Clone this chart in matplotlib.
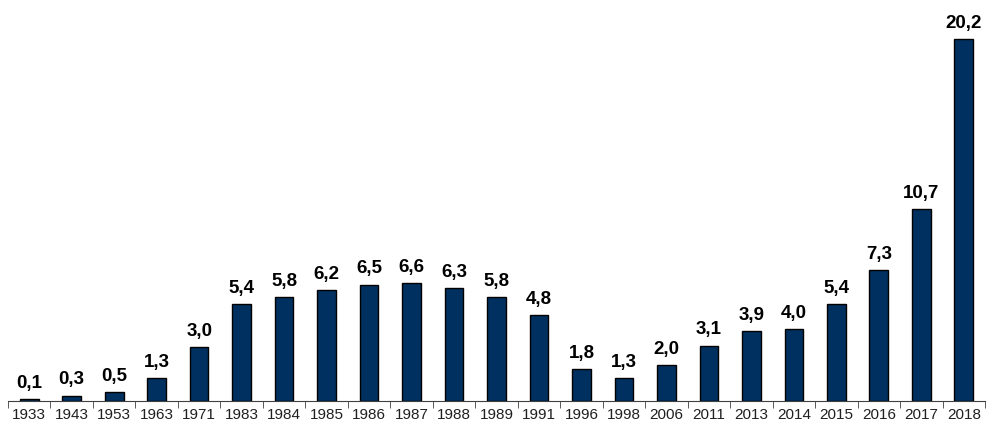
import matplotlib
matplotlib.use("Agg")
import matplotlib.pyplot as plt
import numpy as np

years = ['1933', '1943', '1953', '1963', '1971', '1983', '1984', '1985', '1986',
         '1987', '1988', '1989', '1991', '1996', '1998', '2006', '2011', '2013',
         '2014', '2015', '2016', '2017', '2018']
values = [0.1, 0.3, 0.5, 1.3, 3.0, 5.4, 5.8, 6.2, 6.5, 6.6, 6.3, 5.8, 4.8,
          1.8, 1.3, 2.0, 3.1, 3.9, 4.0, 5.4, 7.3, 10.7, 20.2]

plt.rcParams['font.family'] = ['Liberation Sans', 'DejaVu Sans']

fig = plt.figure(figsize=(9.92, 4.38), dpi=100)
ax = fig.add_axes([8 / 992, 1 - 401 / 438, 977 / 992, 401 / 438])

x = np.arange(len(years))
ax.bar(x, values, width=0.44, color='#00305f', edgecolor='black', linewidth=1)

for xi, v in zip(x, values):
    ax.text(xi, v + 0.4, f"{v:.1f}".replace('.', ','), ha='center', va='bottom',
            fontsize=13.5, fontweight='bold', color='black')

ax.set_xlim(-0.5, len(years) - 0.5)
ax.set_ylim(0, 22.4)
ax.set_yticks([])
for side in ['left', 'right', 'top']:
    ax.spines[side].set_visible(False)
ax.spines['bottom'].set_color('#404040')

ax.set_xticks(x)
ax.set_xticklabels(years, fontsize=11, color='#202020')
ax.tick_params(axis='x', which='major', length=0, pad=5)
ax.set_xticks(np.arange(-0.5, len(years), 1), minor=True)
ax.tick_params(axis='x', which='minor', length=5, direction='out', color='#404040')

fig.savefig('out.png', dpi=100)
